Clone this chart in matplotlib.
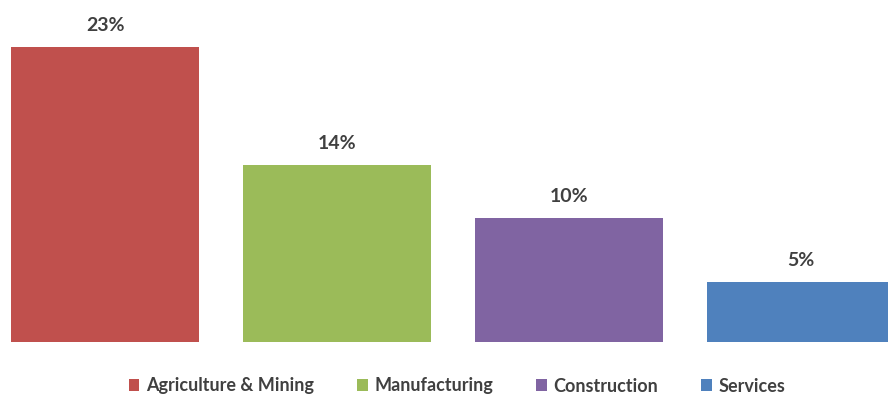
import matplotlib
matplotlib.use("Agg")
import matplotlib.pyplot as plt
from matplotlib.patches import Patch

# 各行业数值（按柱高估读）
categories = ["Agriculture & Mining", "Manufacturing", "Construction", "Services"]
values = [23.0, 13.8, 9.7, 4.7]
colors = ["#C0504D", "#9BBB59", "#8064A2", "#4F81BD"]

plt.rcParams['font.family'] = ['Lato', 'DejaVu Sans']

fig = plt.figure(figsize=(8.88, 3.94), dpi=100)
# 坐标区占满整张图，底部留给图例
ax = fig.add_axes([0, 52 / 394, 1, 342 / 394])

x = range(len(categories))
bars = ax.bar(x, values, width=0.81, color=colors)

for b, v in zip(bars, values):
    ax.text(b.get_x() + b.get_width() / 2, v + 1.0, f"{v:.0f}%",
            ha='center', va='bottom', fontsize=14, fontweight='bold',
            color='#404040')

ax.set_xlim(-0.4526, 3.375)
ax.set_ylim(0, 26.66)
ax.axis('off')

handles = [Patch(facecolor=c, edgecolor='none') for c in colors]
fig.legend(handles, categories, loc='center', bbox_to_anchor=(457 / 888, 8 / 394),
           ncol=4, frameon=False, handlelength=0.6, handleheight=0.6,
           handletextpad=0.35, columnspacing=2.4,
           prop={'weight': 'bold', 'size': 13})
for t in fig.legends[0].get_texts():
    t.set_color('#404040')

fig.savefig("out.png", dpi=100)
